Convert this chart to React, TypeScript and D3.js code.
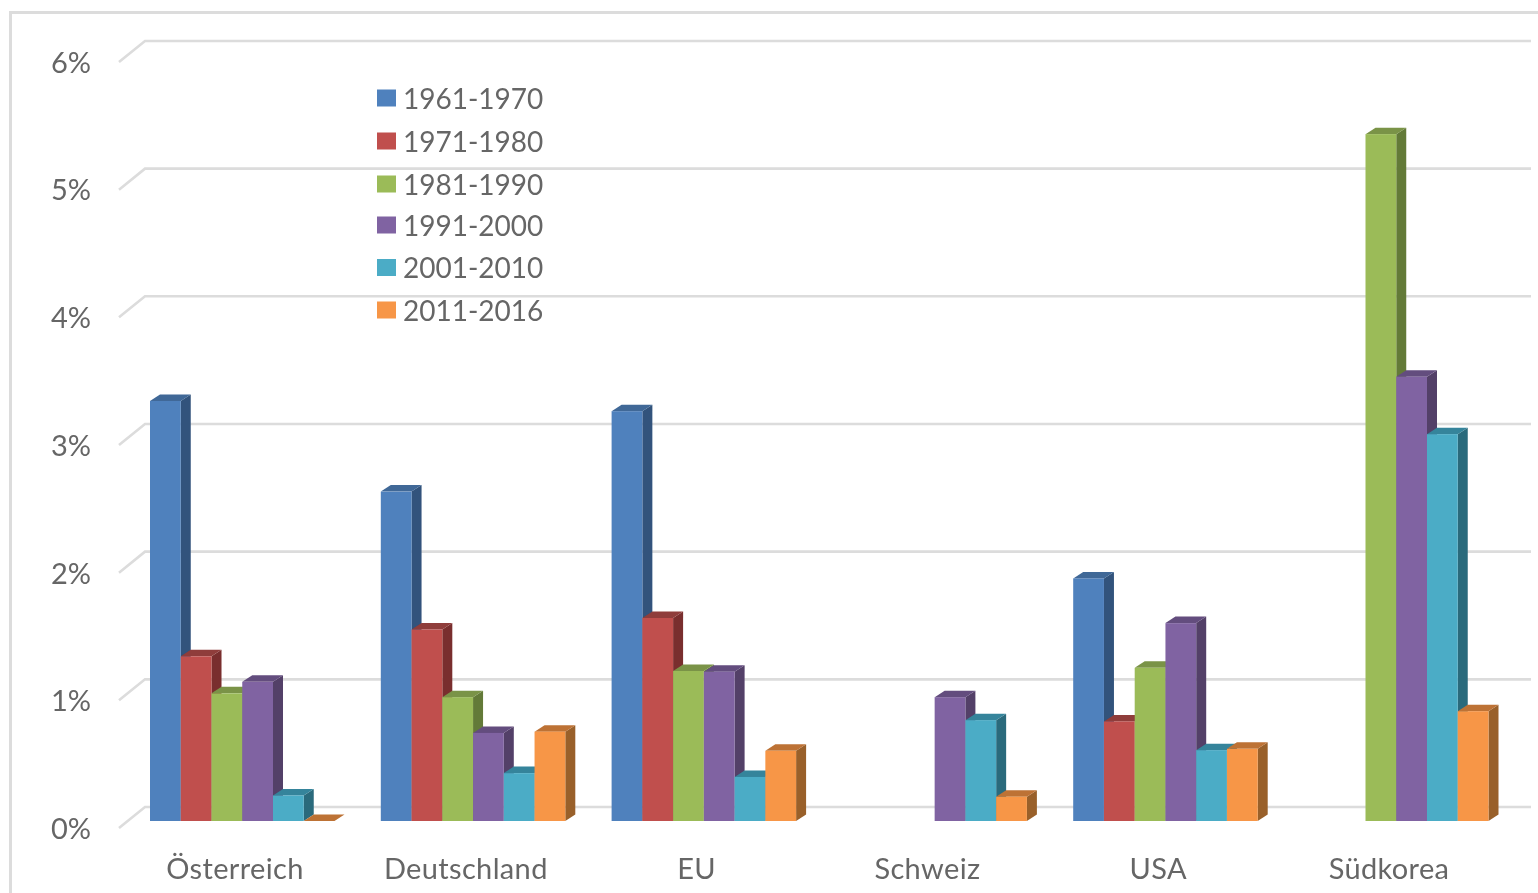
import React from 'react';
import * as d3 from 'd3';

const categories = ['Österreich', 'Deutschland', 'EU', 'Schweiz', 'USA', 'Südkorea'];
const periods = ['1961-1970', '1971-1980', '1981-1990', '1991-2000', '2001-2010', '2011-2016'];
const s1961: (number | null)[] = [3.29, 2.58, 3.21, null, 1.9, null];
const s1971: (number | null)[] = [1.29, 1.5, 1.59, null, 0.78, null];
const s1981: (number | null)[] = [1.0, 0.97, 1.175, null, 1.2, 5.38];
const s1991: (number | null)[] = [1.09, 0.69, 1.17, 0.97, 1.55, 3.48];
const s2001: (number | null)[] = [0.2, 0.375, 0.345, 0.79, 0.555, 3.03];
const s2011: (number | null)[] = [0.0, 0.7, 0.55, 0.19, 0.565, 0.86];
const seriesValues = [s1961, s1971, s1981, s1991, s2001, s2011];
const ticks = [0, 1, 2, 3, 4, 5, 6];
const legendRows = [98, 141, 184, 225, 267.5, 310];

const front = ['#4f81bd', '#c0504d', '#9bbb59', '#8064a2', '#4bacc6', '#f79646'];
const top = ['#3f6797', '#8f3c3a', '#7a9347', '#634d7e', '#35849b', '#bd7235'];
const side = ['#30527b', '#792f2d', '#637a38', '#523f68', '#2c6a7c', '#99602b'];

const FONT = 'Lato, Carlito, "Open Sans", sans-serif';
const TEXT = '#666666';
const GRID = '#dcdcdc';

const y = d3.scaleLinear().domain([0, 6]).range([821, 821 - 6 * 127.67]);
const xCat = d3.scaleLinear().domain([0, 5]).range([150, 1304]);
const barW = 30.75;
const dx = 10;
const dy = -6.5;

const path = (pts: [number, number][]) => {
  const p = d3.path();
  pts.forEach(([a, b], i) => (i ? p.lineTo(a, b) : p.moveTo(a, b)));
  p.closePath();
  return p.toString();
};

export default function App() {
  return (
    <svg
      width={1538}
      height={893}
      style={{ position: 'fixed', left: 0, top: 0, display: 'block', background: '#fff' }}
    >
      <defs>
        <filter id="soft" x="-2%" y="-2%" width="104%" height="104%">
          <feGaussianBlur stdDeviation="0.55" />
        </filter>
      </defs>
      <g filter="url(#soft)">
        <path d="M10.5 893 V12.5 H1538" fill="none" stroke="#dcdcdc" strokeWidth={3} />
        {ticks.map((t) => {
          const yy = y(t);
          return (
            <g key={t}>
              <path
                d={`M119 ${yy + 7} L145 ${yy - 14} H1531`}
                fill="none"
                stroke={GRID}
                strokeWidth={2.6}
              />
              <text
                x={91}
                y={yy + 10.5}
                textAnchor="end"
                dominantBaseline="middle"
                fontFamily={FONT}
                fontSize={29}
                fill={TEXT}
              >
                {t}%
              </text>
            </g>
          );
        })}
        {categories.map((c, ci) =>
          seriesValues.map((vals, si) => {
            const v = vals[ci];
            if (v === null) return null;
            const x0 = xCat(ci) + si * barW;
            const x1 = x0 + barW;
            const yt = y(v);
            const yb = y(0);
            return (
              <g key={`${c}-${si}`}>
                <path
                  d={path([
                    [x1, yt],
                    [x1 + dx, yt + dy],
                    [x1 + dx, yb + dy],
                    [x1, yb],
                  ])}
                  fill={side[si]}
                />
                <path
                  d={path([
                    [x0, yt],
                    [x0 + dx, yt + dy],
                    [x1 + dx, yt + dy],
                    [x1, yt],
                  ])}
                  fill={top[si]}
                />
                <rect x={x0} y={yt} width={barW} height={yb - yt} fill={front[si]} />
              </g>
            );
          })
        )}
        {categories.map((c, ci) => (
          <text
            key={c}
            x={xCat(ci) + 85}
            y={879}
            textAnchor="middle"
            fontFamily={FONT}
            fontSize={29}
            letterSpacing={0.35}
            fill={TEXT}
          >
            {c}
          </text>
        ))}
        {periods.map((p, i) => (
          <g key={p}>
            <rect x={377} y={legendRows[i] - 8.5} width={19} height={17} fill={front[i]} />
            <text
              x={403}
              y={legendRows[i] + 10.5}
              fontFamily={FONT}
              fontSize={28}
              fill={TEXT}
            >
              {p}
            </text>
          </g>
        ))}
      </g>
    </svg>
  );
}
